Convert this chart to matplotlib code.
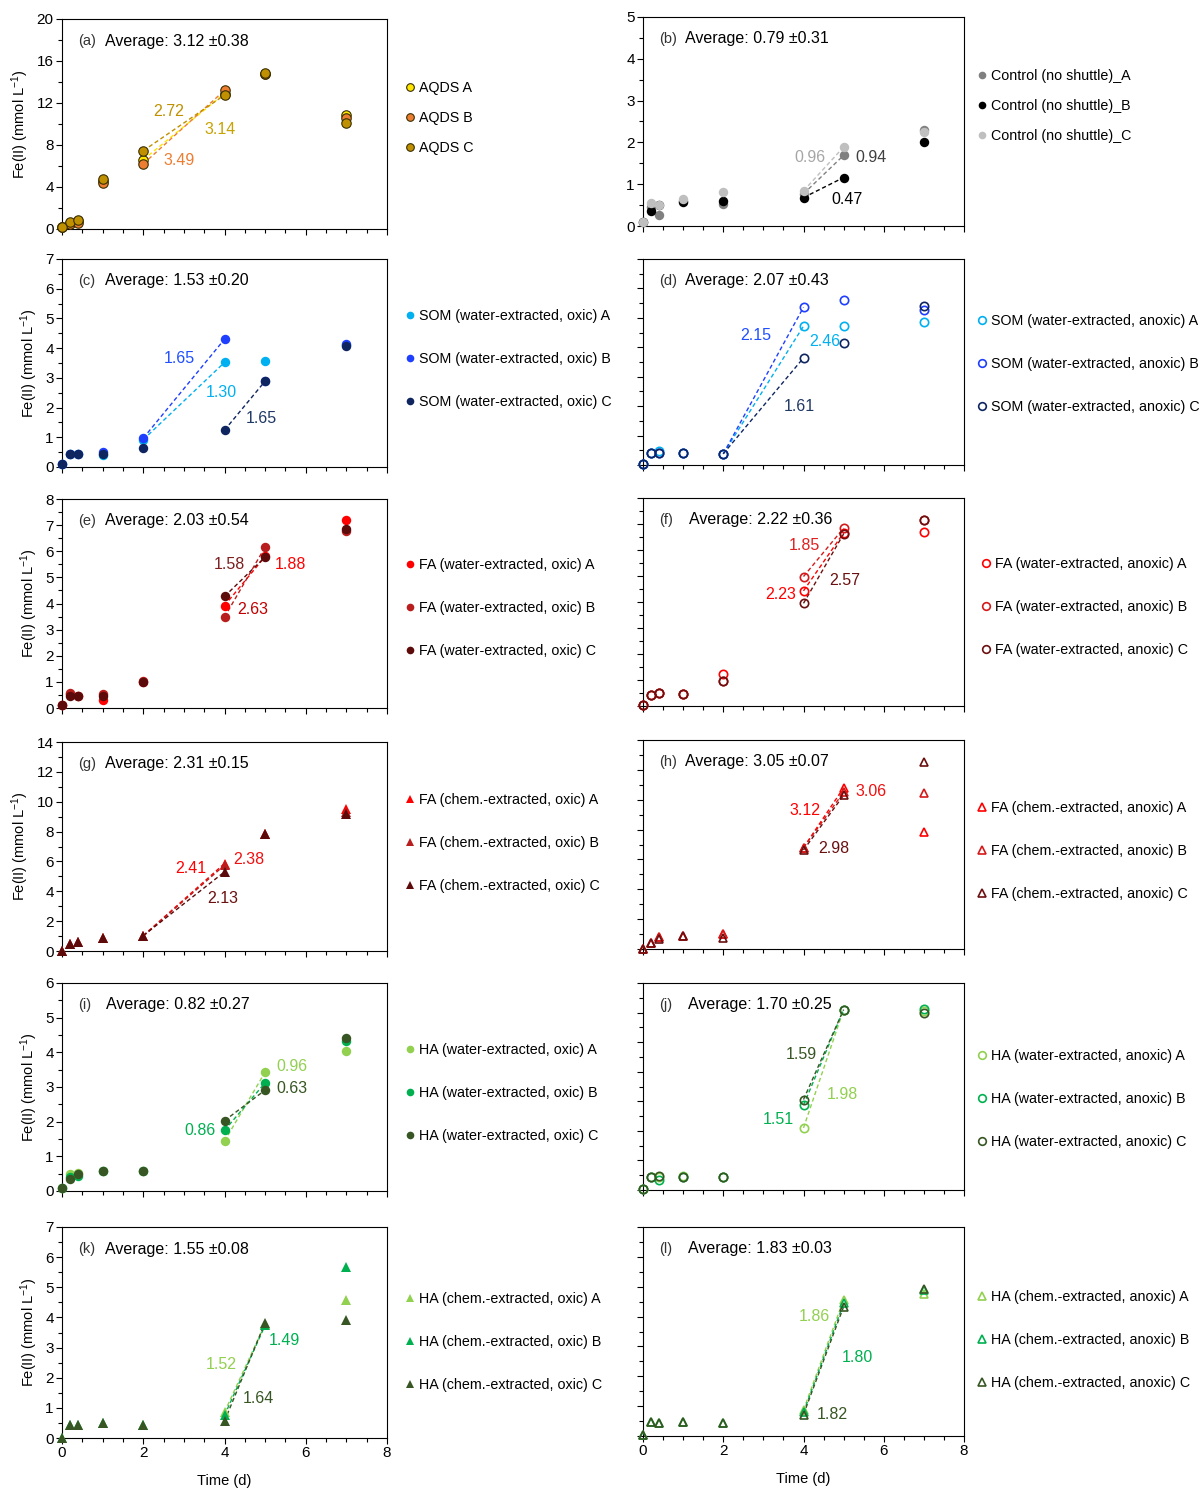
import matplotlib
matplotlib.use('Agg')
import matplotlib.pyplot as plt
from matplotlib.lines import Line2D
from matplotlib.ticker import MultipleLocator

plt.rcParams['font.family'] = ['Liberation Sans', 'DejaVu Sans']
plt.rcParams['mathtext.default'] = 'regular'

#----------------------------------------------------------------------------------
# Sampling times (d)
days = [0, 0.2, 0.4, 1, 2, 4, 5, 7]

# (a) AQDS
aqds_A = [0.15, 0.6, 0.75, 4.6, 6.6, 12.9, 14.8, 10.87]
aqds_B = [0.15, 0.45, 0.55, 4.4, 6.2, 13.2, 14.8, 10.55]
aqds_C = [0.15, 0.7, 0.9, 4.8, 7.45, 12.75, 14.85, 10.1]
# (b) control, no shuttle
ctrl_A = [0.1, 0.45, 0.27, 0.6, 0.52, 0.77, 1.69, 2.29]
ctrl_B = [0.1, 0.36, 0.5, 0.58, 0.61, 0.68, 1.16, 2.01]
ctrl_C = [0.1, 0.55, 0.5, 0.64, 0.81, 0.84, 1.89, 2.25]
# (c) SOM water-extracted, oxic
som_ox_A = [0.1, 0.45, 0.45, 0.42, 0.92, 3.52, 3.58, 4.1]
som_ox_B = [0.1, 0.45, 0.45, 0.5, 0.97, 4.3, 2.9, 4.15]
som_ox_C = [0.1, 0.45, 0.45, 0.45, 0.65, 1.24, 2.89, 4.07]
# (d) SOM water-extracted, anoxic
som_an_A = [0.05, 0.4, 0.47, 0.42, 0.38, 4.72, 4.72, 4.87]
som_an_B = [0.05, 0.4, 0.4, 0.42, 0.38, 5.36, 5.59, 5.27]
som_an_C = [0.05, 0.4, 0.4, 0.42, 0.38, 3.64, 4.15, 5.4]
# (e) FA water-extracted, oxic
fa_w_ox_A = [0.1, 0.55, 0.47, 0.32, 1.0, 3.92, 5.8, 7.18]
fa_w_ox_B = [0.1, 0.57, 0.45, 0.54, 1.02, 3.48, 6.16, 6.76]
fa_w_ox_C = [0.1, 0.45, 0.45, 0.45, 1.0, 4.27, 5.78, 6.85]
# (f) FA water-extracted, anoxic
fa_w_an_A = [0.05, 0.42, 0.49, 0.45, 1.24, 4.43, 6.66, 6.68]
fa_w_an_B = [0.05, 0.42, 0.49, 0.45, 0.98, 4.98, 6.84, 7.14]
fa_w_an_C = [0.05, 0.42, 0.49, 0.45, 0.98, 3.95, 6.62, 7.14]
# (g) FA chem.-extracted, oxic
fa_c_ox_A = [0, 0.45, 0.62, 0.85, 1.03, 5.86, 7.87, 9.54]
fa_c_ox_B = [0, 0.45, 0.62, 0.85, 1.0, 5.75, 7.87, 9.3]
fa_c_ox_C = [0, 0.45, 0.62, 0.85, 1.03, 5.3, 7.87, 9.2]
# (h) FA chem.-extracted, anoxic
fa_c_an_A = [0, 0.38, 0.78, 0.87, 1.0, 6.79, 10.8, 7.86]
fa_c_an_B = [0, 0.38, 0.78, 0.87, 1.0, 6.79, 10.5, 10.42]
fa_c_an_C = [0, 0.38, 0.7, 0.87, 0.71, 6.63, 10.3, 12.5]
# (i) HA water-extracted, oxic
ha_w_ox_A = [0.08, 0.5, 0.53, 0.58, 0.58, 1.44, 3.43, 4.03]
ha_w_ox_B = [0.08, 0.4, 0.43, 0.58, 0.58, 1.75, 3.12, 4.34]
ha_w_ox_C = [0.08, 0.34, 0.48, 0.58, 0.58, 2.03, 2.91, 4.4]
# (j) HA water-extracted, anoxic
ha_w_an_A = [0.05, 0.43, 0.45, 0.47, 0.43, 2.1, 6.1, 6.05]
ha_w_an_B = [0.05, 0.43, 0.34, 0.45, 0.43, 2.87, 6.1, 6.12]
ha_w_an_C = [0.05, 0.43, 0.47, 0.45, 0.43, 3.06, 6.1, 6.0]
# (k) HA chem.-extracted, oxic
ha_c_ox_A = [0, 0.44, 0.44, 0.5, 0.44, 0.86, 3.78, 4.57]
ha_c_ox_B = [0, 0.44, 0.44, 0.5, 0.44, 0.75, 3.74, 5.67]
ha_c_ox_C = [0, 0.44, 0.44, 0.5, 0.44, 0.56, 3.83, 3.9]
# (l) HA chem.-extracted, anoxic
ha_c_an_A = [0.05, 0.46, 0.42, 0.46, 0.42, 0.87, 4.57, 4.74]
ha_c_an_B = [0.05, 0.46, 0.42, 0.46, 0.42, 0.79, 4.44, 4.88]
ha_c_an_C = [0.05, 0.46, 0.42, 0.46, 0.42, 0.72, 4.33, 4.92]

# Average rates written in each panel
averages = ['3.12 \u00b10.38', '0.79 \u00b10.31', '1.53 \u00b10.20', '2.07 \u00b10.43',
            '2.03 \u00b10.54', '2.22 \u00b10.36', '2.31 \u00b10.15', '3.05 \u00b10.07',
            '0.82 \u00b10.27', '1.70 \u00b10.25', '1.55 \u00b10.08', '1.83 \u00b10.03']

# slope labels (text) of every panel, in series order A, B, C
rates_a = ['3.14', '3.49', '2.72']
rates_b = ['0.94', '0.47', '0.96']
rates_c = ['1.30', '1.65', '1.65']
rates_d = ['2.46', '2.15', '1.61']
rates_e = ['1.88', '2.63', '1.58']
rates_f = ['2.23', '1.85', '2.57']
rates_g = ['2.41', '2.38', '2.13']
rates_h = ['3.12', '3.06', '2.98']
rates_i = ['0.96', '0.86', '0.63']
rates_j = ['1.98', '1.51', '1.59']
rates_k = ['1.52', '1.49', '1.64']
rates_l = ['1.86', '1.80', '1.82']

#----------------------------------------------------------------------------------
W, H = 1203, 1488
fig = plt.figure(figsize=(W / 100, H / 100), dpi=100)

LEFT = (62, 387)
RIGHT = (643, 964)

def name3(base):
    return [base + ' A', base + ' B', base + ' C']

gold = ['#FFE600', '#ED7D31', '#BF9000']
grays = ['#808080', '#000000', '#BFBFBF']
blues = ['#00B0F0', '#1F3FFF', '#0E2560']
reds = ['#FF0000', '#B81E1E', '#5C0A0A']
reds2 = ['#FF0000', '#D41A1A', '#6B1010']
greens = ['#92D050', '#00B050', '#375623']

# seg = (first, last) index into days of the dashed rate line of each series
panels = [
    dict(tag='(a)', avg=averages[0], data=[aqds_A, aqds_B, aqds_C], colors=gold,
         names=['AQDS A', 'AQDS B', 'AQDS C'], marker='o', fill=True, edge='#3A2E00',
         ylim=20, major=4, minor=2, ylab=True, col=LEFT, rows=(19, 229),
         seg=[(4, 5), (4, 5), (4, 5)],
         rates=rates_a, rcol=['#C8A200', '#ED7D31', '#BF9000'],
         rpos=[(3.88, 9.5), (2.89, 6.5), (2.62, 11.2)], leg=(410, 118, 30), avx=0.132),
    dict(tag='(b)', avg=averages[1], data=[ctrl_A, ctrl_B, ctrl_C], colors=grays,
         names=['Control (no shuttle)_A', 'Control (no shuttle)_B', 'Control (no shuttle)_C'],
         marker='o', fill=True, edge=None,
         ylim=5, major=1, minor=0.5, ylab=True, col=RIGHT, rows=(17, 226),
         seg=[(5, 6), (5, 6), (5, 6)],
         rates=rates_b, rcol=['#404040', '#000000', '#A6A6A6'],
         rpos=[(5.67, 1.63), (5.09, 0.64), (4.17, 1.63)], leg=(982, 106, 30), avx=0.131),
    dict(tag='(c)', avg=averages[2], data=[som_ox_A, som_ox_B, som_ox_C], colors=blues,
         names=name3('SOM (water-extracted, oxic)'), marker='o', fill=True, edge=None,
         ylim=7, major=1, minor=0.5, ylab=True, col=LEFT, rows=(259, 467),
         seg=[(4, 5), (4, 5), (5, 6)],
         rates=rates_c, rcol=['#00B0F0', '#1F4FFF', '#1F3864'],
         rpos=[(3.93, 2.51), (2.88, 3.66), (4.9, 1.63)], leg=(410, 359, 43), avx=0.132),
    dict(tag='(d)', avg=averages[3], data=[som_an_A, som_an_B, som_an_C], colors=blues,
         names=name3('SOM (water-extracted, anoxic)'), marker='o', fill=False, edge=None,
         ylim=7, major=1, minor=0.5, ylab=False, col=RIGHT, rows=(259, 465),
         seg=[(4, 5), (4, 5), (4, 5)],
         rates=rates_d, rcol=['#00B0F0', '#1F4FFF', '#1F3864'],
         rpos=[(4.52, 4.18), (2.81, 4.4), (3.89, 2.0)], leg=(982, 364, 43), avx=0.131),
    dict(tag='(e)', avg=averages[4], data=[fa_w_ox_A, fa_w_ox_B, fa_w_ox_C], colors=reds,
         names=name3('FA (water-extracted, oxic)'), marker='o', fill=True, edge=None,
         ylim=8, major=1, minor=0.5, ylab=True, col=LEFT, rows=(499, 708),
         seg=[(5, 6), (5, 6), (5, 6)],
         rates=rates_e, rcol=['#FF0000', '#C00000', '#7B1F1F'],
         rpos=[(5.62, 5.48), (4.7, 3.76), (4.11, 5.48)], leg=(410, 608, 43), avx=0.132),
    dict(tag='(f)', avg=averages[5], data=[fa_w_an_A, fa_w_an_B, fa_w_an_C], colors=reds2,
         names=name3('FA (water-extracted, anoxic)'), marker='o', fill=False, edge=None,
         ylim=8, major=1, minor=0.5, ylab=False, col=RIGHT, rows=(498, 706),
         seg=[(5, 6), (5, 6), (5, 6)],
         rates=rates_f, rcol=['#FF0000', '#E02020', '#6B1010'],
         rpos=[(3.43, 4.3), (4.02, 6.16), (5.02, 4.81)], leg=(986, 607, 43), avx=0.142),
    dict(tag='(g)', avg=averages[6], data=[fa_c_ox_A, fa_c_ox_B, fa_c_ox_C], colors=reds,
         names=name3('FA (chem.-extracted, oxic)'), marker='^', fill=True, edge=None,
         ylim=14, major=2, minor=1, ylab=True, col=LEFT, rows=(742, 951),
         seg=[(4, 5), (4, 5), (4, 5)],
         rates=rates_g, rcol=['#FF0000', '#F01010', '#6B1010'],
         rpos=[(3.17, 5.5), (4.61, 6.15), (3.96, 3.5)], leg=(410, 843, 43), avx=0.132),
    dict(tag='(h)', avg=averages[7], data=[fa_c_an_A, fa_c_an_B, fa_c_an_C], colors=reds2,
         names=name3('FA (chem.-extracted, anoxic)'), marker='^', fill=False, edge=None,
         ylim=14, major=2, minor=1, ylab=False, col=RIGHT, rows=(740, 949),
         seg=[(5, 6), (5, 6), (5, 6)],
         rates=rates_h, rcol=['#FF0000', '#F01010', '#6B1010'],
         rpos=[(4.03, 9.31), (5.68, 10.54), (4.75, 6.74)], leg=(982, 851, 43), avx=0.131),
    dict(tag='(i)', avg=averages[8], data=[ha_w_ox_A, ha_w_ox_B, ha_w_ox_C], colors=greens,
         names=name3('HA (water-extracted, oxic)'), marker='o', fill=True, edge=None,
         ylim=6, major=1, minor=0.5, ylab=True, col=LEFT, rows=(983, 1191),
         seg=[(5, 6), (5, 6), (5, 6)],
         rates=rates_i, rcol=['#92D050', '#00B050', '#375623'],
         rpos=[(5.66, 3.59), (3.4, 1.75), (5.67, 2.97)], leg=(410, 1093, 43), avx=0.135),
    dict(tag='(j)', avg=averages[9], data=[ha_w_an_A, ha_w_an_B, ha_w_an_C], colors=greens,
         names=name3('HA (water-extracted, anoxic)'), marker='o', fill=False, edge=None,
         ylim=7, major=1, minor=0.5, ylab=False, col=RIGHT, rows=(983, 1190),
         seg=[(5, 6), (5, 6), (5, 6)],
         rates=rates_j, rcol=['#92D050', '#00B050', '#375623'],
         rpos=[(4.96, 3.22), (3.37, 2.4), (3.95, 4.59)], leg=(982, 1099, 43), avx=0.14),
    dict(tag='(k)', avg=averages[10], data=[ha_c_ox_A, ha_c_ox_B, ha_c_ox_C], colors=greens,
         names=name3('HA (chem.-extracted, oxic)'), marker='^', fill=True, edge=None,
         ylim=7, major=1, minor=0.5, ylab=True, col=LEFT, rows=(1227, 1438),
         seg=[(5, 6), (5, 6), (5, 6)],
         rates=rates_k, rcol=['#92D050', '#00B050', '#375623'],
         rpos=[(3.93, 2.44), (5.48, 3.22), (4.84, 1.31)], leg=(410, 1342, 43), avx=0.132),
    dict(tag='(l)', avg=averages[11], data=[ha_c_an_A, ha_c_an_B, ha_c_an_C], colors=greens,
         names=name3('HA (chem.-extracted, anoxic)'), marker='^', fill=False, edge=None,
         ylim=7, major=1, minor=0.5, ylab=False, col=RIGHT, rows=(1227, 1436),
         seg=[(5, 6), (5, 6), (5, 6)],
         rates=rates_l, rcol=['#92D050', '#00B050', '#375623'],
         rpos=[(4.27, 4.01), (5.35, 2.64), (4.72, 0.72)], leg=(982, 1340, 43), avx=0.14),
]

#----------------------------------------------------------------------------------
for i, p in enumerate(panels):
    x0, x1 = p['col']
    top, bot = p['rows']
    ax = fig.add_axes([x0 / W, 1 - bot / H, (x1 - x0) / W, (bot - top) / H])
    handles = []
    for s, (vals, c) in enumerate(zip(p['data'], p['colors'])):
        ms = 6.8
        if p['fill']:
            kw = dict(marker=p['marker'], markersize=ms, color=c,
                      markeredgecolor=p['edge'] if p['edge'] else c,
                      markeredgewidth=0.8 if p['edge'] else 0)
        else:
            kw = dict(marker=p['marker'], markersize=ms - 0.8, markerfacecolor='none',
                      markeredgecolor=c, markeredgewidth=1.2)
        ax.plot(days, vals, linestyle='none', clip_on=False, zorder=3, **kw)
        a, b = p['seg'][s]
        ax.plot(days[a:b + 1], vals[a:b + 1], linestyle=(0, (3, 2)), lw=1.0,
                color=c, zorder=2)
        ax.text(p['rpos'][s][0], p['rpos'][s][1], p['rates'][s], color=p['rcol'][s],
                fontsize=11.5, ha='center', va='center')
        handles.append(Line2D([], [], linestyle='none', **dict(kw, markersize=5.5)))

    ax.set_xlim(0, 8)
    ax.set_ylim(0, p['ylim'])
    ax.xaxis.set_major_locator(MultipleLocator(2))
    ax.xaxis.set_minor_locator(MultipleLocator(0.5))
    ax.yaxis.set_major_locator(MultipleLocator(p['major']))
    ax.yaxis.set_minor_locator(MultipleLocator(p['minor']))
    ax.tick_params(which='both', direction='out', top=False, right=False,
                   labelsize=11, width=0.8, pad=2)
    ax.tick_params(which='major', length=4)
    ax.tick_params(which='minor', length=3)
    for sp in ax.spines.values():
        sp.set_linewidth(0.8)
    if not p['ylab']:
        ax.set_yticklabels([])
    if p['col'] == LEFT:
        ax.set_ylabel('Fe(II) (mmol L$^{-1}$)', fontsize=10.5, labelpad=4)
    if i >= 10:
        ax.set_xlabel('Time (d)', fontsize=10.5, labelpad=10)
    else:
        ax.set_xticklabels([])

    ax.text(0.05, 0.895, p['tag'], transform=ax.transAxes, fontsize=10.5,
            color='#333333', va='center')
    ax.text(p['avx'], 0.895, 'Average: ' + p['avg'], transform=ax.transAxes,
            fontsize=11.5, va='center')

    lx, ly, step = p['leg']
    fs = 10.3
    ax.legend(handles, p['names'], loc='center left',
              bbox_to_anchor=((lx - 4) / W, 1 - ly / H), bbox_transform=fig.transFigure,
              frameon=False, fontsize=fs, handlelength=0.6, handletextpad=0.3,
              labelspacing=(step - 1.0 * fs * 1.39) / (fs * 1.39),
              borderpad=0, borderaxespad=0)

fig.savefig('out.png', dpi=100)
